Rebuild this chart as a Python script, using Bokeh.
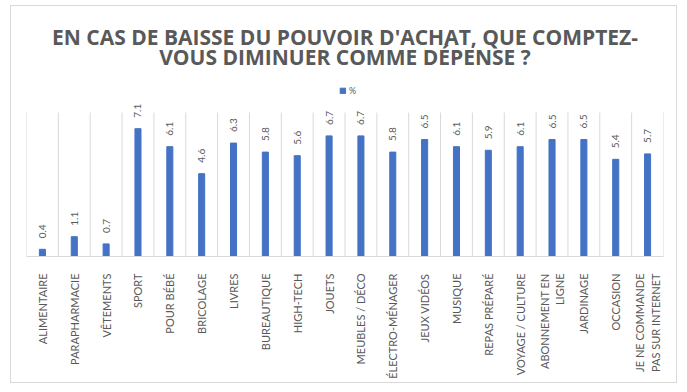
import math
from bokeh.plotting import figure
from bokeh.models import ColumnDataSource, Range1d, FactorRange, Legend, LegendItem, Label
from bokeh.core.properties import value
from bokeh.embed import file_html
from bokeh.resources import INLINE

categories = ["ALIMENTAIRE", "PARAPHARMACIE", "VÊTEMENTS", "SPORT", "POUR BÉBÉ",
              "BRICOLAGE", "LIVRES", "BUREAUTIQUE", "HIGH-TECH", "JOUETS",
              "MEUBLES / DÉCO", "ÉLECTRO-MÉNAGER", "JEUX VIDÉOS", "MUSIQUE",
              "REPAS PRÉPARÉ", "VOYAGE / CULTURE", "ABONNEMENT EN\nLIGNE",
              "JARDINAGE", "OCCASION", "JE NE COMMANDE\nPAS SUR INTERNET"]
percent = [0.4, 1.1, 0.7, 7.1, 6.1, 4.6, 6.3, 5.8, 5.6, 6.7,
           6.7, 5.8, 6.5, 6.1, 5.9, 6.1, 6.5, 6.5, 5.4, 5.7]
value_labels = [f"{v:.1f}" for v in percent]
title_lines = ["EN CAS DE BAISSE DU POUVOIR D'ACHAT, QUE COMPTEZ-",
               "VOUS DIMINUER COMME DÉPENSE ?"]
YMAX = 8

TXT = "#595959"
GRID = "#d9d9d9"
BAR = "#4472C4"
FONT = "Lato"
TFONT = "Open Sans"

# layout (pixels)
W, H = 667, 378
FRAME_H = 250          # canvas top to baseline
PLOT_H = 144           # baseline to value 8
ytop = YMAX * FRAME_H / PLOT_H

src = ColumnDataSource(dict(cat=categories, pct=percent, lab=value_labels))

p = figure(width=W, height=H, x_range=FactorRange(factors=categories, range_padding=0),
           y_range=Range1d(0, ytop), output_backend="svg", toolbar_location=None,
           min_border_left=15, min_border_right=15, min_border_top=0,
           min_border_bottom=H - FRAME_H)
p.styles = {"border": "1px solid #d9d9d9", "margin-left": "10px", "margin-top": "5px"}
p.outline_line_color = None
p.background_fill_color = "white"
p.border_fill_color = "white"

p.xgrid.grid_line_color = None
p.ygrid.grid_line_color = None
p.yaxis.visible = False

n = len(categories)
bounds = list(range(n + 1))
p.segment(x0=bounds, x1=bounds, y0=[0] * len(bounds), y1=[YMAX] * len(bounds),
          line_color=GRID, line_width=1)

r = p.vbar(x="cat", top="pct", width=0.19, source=src, color=BAR)

p.text(x="cat", y="pct", text="lab", source=src, angle=math.pi / 2,
       text_align="left", text_baseline="middle", y_offset=-11,
       text_font=value(FONT), text_font_size="10px", text_color=TXT)

for i, line in enumerate(title_lines):
    p.add_layout(Label(x=n / 2, y=ytop, y_offset=-30 - 20 * i, text=line,
                       text_align="center", text_baseline="middle",
                       text_font=TFONT, text_font_size="21px", text_font_style="bold",
                       text_color=TXT))

ax = p.xaxis[0]
ax.axis_line_color = GRID
ax.major_tick_line_color = None
ax.minor_tick_line_color = None
ax.major_label_orientation = math.pi / 2
ax.major_label_standoff = 11
ax.major_label_text_font = FONT
ax.major_label_text_font_size = "11px"
ax.major_label_text_color = TXT

legend = Legend(items=[LegendItem(label="%", renderers=[r])], orientation="horizontal",
                location=(313, 160), border_line_color=None, background_fill_alpha=0,
                glyph_width=7, glyph_height=7, label_text_font=FONT,
                label_text_font_size="9px", label_text_color=TXT, padding=0, margin=0,
                label_standoff=3, label_height=9)
p.add_layout(legend, "center")

open("out.html", "w").write(file_html(p, INLINE))
